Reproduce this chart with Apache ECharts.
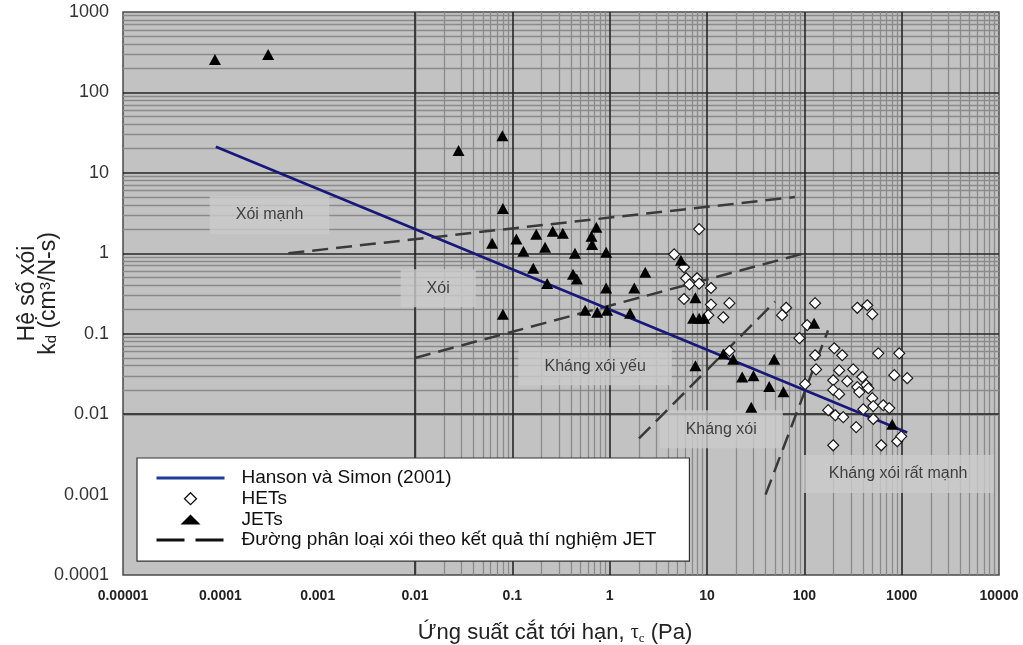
<!DOCTYPE html>
<html><head><meta charset="utf-8">
<script src="https://cdn.jsdelivr.net/npm/echarts@6/dist/echarts.min.js"></script>
<style>html,body{margin:0;padding:0;background:#fff}#c{width:1023px;height:645px}</style>
</head><body><div id="c"></div>
<script>
// ---- data ----
const xTickLabels = ['0.00001','0.0001','0.001','0.01','0.1','1','10','100','1000','10000'];
const yTickLabels = ['0.0001','0.001','0.01','0.1','1','10','100','1000'];

const hansonName = 'Hanson và Simon (2001)';
const hansonLine = [[9e-5, 21.1], [1140, 0.0059]];

const hetName = 'HETs';
const hetPoints = [
  [8.3,2.0],[4.6,0.97],[5.8,0.67],[6.1,0.49],[6.6,0.41],[7.9,0.49],[8.3,0.42],[5.8,0.27],
  [11,0.37],[11,0.23],[10.3,0.17],[17,0.24],[14.7,0.16],[17,0.061],
  [65,0.21],[59,0.17],[129,0.24],[107,0.128],[89,0.088],[129,0.054],[132,0.036],[102,0.0236],
  [203,0.066],[245,0.054],[228,0.035],[198,0.0264],[276,0.0257],[198,0.02],[228,0.0177],
  [176,0.0112],[208,0.0097],[251,0.0092],[198,0.0041],
  [350,0.21],[443,0.226],[499,0.175],[575,0.057],[944,0.057],[318,0.036],[394,0.029],
  [433,0.023],[350,0.0217],[454,0.021],[367,0.0188],[499,0.0158],[511,0.0126],[647,0.0129],
  [746,0.0119],[840,0.0305],[1140,0.028],[403,0.0115],[511,0.0087],[341,0.0069],
  [617,0.0041],[900,0.0046],[990,0.0053]
];

const jetName = 'JETs';
const jetPoints = [
  [8.8e-5,257],[3.1e-4,296],[0.028,19],[0.079,29],[0.08,3.6],[0.062,1.33],[0.08,0.175],
  [0.11,1.5],[0.13,1.06],[0.176,1.72],[0.217,1.19],[0.164,0.65],[0.228,0.42],[0.26,1.88],
  [0.33,1.77],[0.44,1.0],[0.42,0.55],[0.46,0.48],[0.65,1.63],[0.66,1.29],[0.73,2.1],
  [0.92,1.03],[0.92,0.37],[0.56,0.196],[0.745,0.185],[0.94,0.196],[1.62,0.18],[1.79,0.37],
  [2.32,0.58],[5.4,0.82],[7.6,0.28],[7.2,0.156],[8.3,0.156],[9.35,0.156],[7.6,0.04],
  [14.7,0.056],[18.6,0.048],[23,0.029],[30,0.030],[43.6,0.022],[61,0.019],[49,0.048],
  [28.5,0.0122],[126,0.135],[800,0.0075]
];

const dashName = 'Đường phân loại xói theo kết quả thí nghiệm JET';
const dashLine1 = [[5e-4, 1], [80, 5]];
const dashLine2 = [[0.01, 0.05], [100, 1]];
const dashLine3 = [[2, 0.005], [50, 0.25]];
const dashLine4 = [[40, 0.001], [175, 0.11]];

const zoneLabels = ['Xói mạnh', 'Xói', 'Kháng xói yếu', 'Kháng xói', 'Kháng xói rất mạnh'];
const zoneAnchors = [[3.2e-4, 3], [0.0173, 0.367], [0.71, 0.0395], [14, 0.0065], [920, 0.0018]];

// ---- grid line values derived from the tick labels ----
function majorsOf(labels) { return labels.map(Number); }
function minorsOf(labels) {
  const m = majorsOf(labels), out = [];
  for (let i = 0; i < m.length - 1; i++) for (let k = 2; k <= 9; k++) out.push(+(k * m[i]).toPrecision(6));
  return out;
}
const xMajors = majorsOf(xTickLabels), yMajors = majorsOf(yTickLabels);
const xMinors = minorsOf(xTickLabels), yMinors = minorsOf(yTickLabels);

function labelFor(labels, v) {
  const first = Math.round(Math.log10(Number(labels[0])));
  const i = Math.round(Math.log10(v)) - first;
  return labels[i] !== undefined ? labels[i] : '';
}

const chart = echarts.init(document.getElementById('c'), null, {renderer: 'canvas'});

function gridSeries(xs, ys, style, z) {
  return {
    type: 'scatter', data: [], z: z, silent: true,
    markLine: {
      z: z, silent: true, symbol: ['none', 'none'], label: {show: false}, animation: false,
      lineStyle: style, emphasis: {disabled: true},
      data: xs.map(v => ({xAxis: v})).concat(ys.map(v => ({yAxis: v})))
    }
  };
}

const dashStyle = {color: '#3a3a3a', width: 2.5, type: [16, 8]};
function dashSeries(d) {
  return {name: dashName, type: 'line', data: d, symbol: 'none', z: 5, lineStyle: dashStyle, itemStyle: {color: '#111'}};
}
const hiddenSymbol = {color: 'transparent', borderColor: 'transparent', borderWidth: 0, opacity: 0};
const font = 'Liberation Sans, Arial, sans-serif';
// legend icons: the leading moves span the whole 68x14 icon box so the mark keeps its shape
const diamondIcon = 'path://M0,0M68,14M34,1L40,7L34,13L28,7Z';
const triangleIcon = 'path://M0,0M68,14M34,2L44,12L24,12Z';

const option = {
  animation: false,
  backgroundColor: '#ffffff',
  grid: {left: 123, right: 24, top: 12, bottom: 70, outerBoundsMode: 'none', containLabel: false,
    show: true, backgroundColor: '#c2c2c2', borderColor: '#4a4a4a', borderWidth: 1.5},
  xAxis: {
    type: 'log', logBase: 10, min: Number(xTickLabels[0]), max: Number(xTickLabels[xTickLabels.length - 1]),
    splitNumber: xTickLabels.length - 1,
    axisLine: {show: false}, axisTick: {show: false}, splitLine: {show: false},
    axisLabel: {margin: 14, color: '#222', fontSize: 14, fontWeight: 'bold', fontFamily: font,
      formatter: v => labelFor(xTickLabels, v)},
    name: '{a|Ứng suất cắt tới hạn, }{t|τ}{s|c}{a| (Pa)}',
    nameLocation: 'middle', nameGap: 46, nameMoveOverlap: false,
    nameTextStyle: {
      padding: [0, 12, 0, 0],
      rich: {
        a: {fontSize: 22, color: '#222', fontFamily: font, lineHeight: 24},
        t: {fontSize: 20, color: '#222', fontFamily: 'Liberation Serif, serif', lineHeight: 24},
        s: {fontSize: 13, color: '#222', fontFamily: 'Liberation Serif, serif', lineHeight: 16, verticalAlign: 'bottom'}
      }
    }
  },
  yAxis: {
    type: 'log', logBase: 10, min: Number(yTickLabels[0]), max: Number(yTickLabels[yTickLabels.length - 1]),
    splitNumber: yTickLabels.length - 1,
    axisLine: {show: false}, axisTick: {show: false}, splitLine: {show: false},
    axisLabel: {margin: 14, color: '#333', fontSize: 18, fontFamily: font,
      formatter: v => labelFor(yTickLabels, v)},
    name: '{a|Hệ số xói}\n{a|k}{b|d}{a| (cm}{c|3}{a|/N-s)}',
    nameLocation: 'middle', nameRotate: 90, nameGap: 64, nameMoveOverlap: false,
    nameTextStyle: {
      rich: {
        a: {fontSize: 23, color: '#222', fontFamily: font, lineHeight: 21},
        b: {fontSize: 15, color: '#222', fontFamily: font, lineHeight: 12, verticalAlign: 'bottom'},
        c: {fontSize: 15, color: '#222', fontFamily: font, lineHeight: 12, verticalAlign: 'top'}
      }
    }
  },
  legend: {
    left: 137, top: 458, orient: 'vertical', z: 20,
    backgroundColor: '#ffffff', borderColor: '#333', borderWidth: 1.2,
    padding: [10, 33, 11, 18],
    itemWidth: 68, itemHeight: 14, itemGap: 0.7,
    selectedMode: false,
    textStyle: {fontSize: 19, color: '#111', lineHeight: 20, padding: [0, 0, 0, 12], fontFamily: font},
    data: [
      {name: hansonName, itemStyle: hiddenSymbol, lineStyle: {width: 3, color: '#1f3c96'}},
      {name: hetName, icon: diamondIcon, itemStyle: {color: '#ffffff', borderColor: '#111', borderWidth: 1.3}},
      {name: jetName, icon: triangleIcon, itemStyle: {color: '#000000'}},
      {name: dashName, itemStyle: hiddenSymbol, lineStyle: {type: [28, 11], width: 3, color: '#111'}}
    ]
  },
  series: [
    gridSeries(xMinors, yMinors, {color: '#8a8a8a', width: 1.3, type: 'solid'}, 1),
    gridSeries(xMajors.slice(1, -1), yMajors.slice(1, -1), {color: '#262626', width: 1.6, type: 'solid'}, 2),
    {
      type: 'scatter', z: 3, silent: true,
      data: zoneAnchors.map((p, i) => [p[0], p[1], zoneLabels[i]]),
      symbolSize: 1, itemStyle: {color: 'transparent'},
      label: {
        show: true, position: 'inside', formatter: p => p.data[2],
        backgroundColor: '#cbcbcb', padding: [10, 26], fontSize: 16, lineHeight: 18,
        color: '#1a1a1a', fontFamily: font
      }
    },
    {name: hansonName, type: 'line', data: hansonLine, symbol: 'none', z: 6, lineStyle: {color: '#18187a', width: 2.6}, itemStyle: {color: '#18187a'}},
    dashSeries(dashLine1), dashSeries(dashLine2), dashSeries(dashLine3), dashSeries(dashLine4),
    {name: hetName, type: 'scatter', data: hetPoints, z: 7, symbol: 'diamond', symbolSize: 11,
      itemStyle: {color: '#ffffff', borderColor: '#1a1a1a', borderWidth: 1.2, opacity: 1}},
    {name: jetName, type: 'scatter', data: jetPoints, z: 8, symbol: 'triangle', symbolSize: [12, 11],
      itemStyle: {color: '#000000', opacity: 1}}
  ]
};
chart.setOption(option);
</script></body></html>
